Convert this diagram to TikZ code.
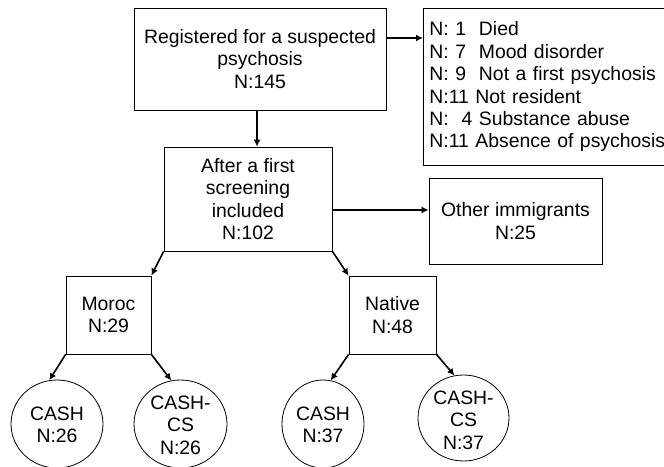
\documentclass[tikz,border=0pt]{standalone}
\usepackage{fontspec}
\setmainfont{Liberation Sans}
\usetikzlibrary{arrows.meta,shapes.geometric}
\begin{document}
\begin{tikzpicture}[x=1pt,y=-1pt,
  every node/.style={font=\fontsize{19.4}{22.4}\selectfont},
  box/.style={draw=black,line width=0.8pt,rectangle,inner sep=0pt,align=center},
  oval/.style={draw=black,line width=0.8pt,ellipse,inner sep=0pt},
  txt/.style={align=center,inner sep=0pt},
  arr/.style={draw=black,line width=1.6pt,-{Latex[length=7pt,width=7pt]}}
]
\useasboundingbox (0,0) rectangle (664,466);
\clip (0,0) rectangle (664,466);
\node[box,minimum width=252pt,minimum height=102pt] (b1) at (260,59) {Registered for a suspected\\psychosis\\N:145};
\node[box,anchor=north west,minimum height=157pt,text width=252pt,inner xsep=6pt,align=left] (b2) at (423,8)
 {N: 1\ \ Died\\N: 7\ \ Mood disorder\\N: 9\ \ Not a first psychosis\\N:11 Not resident\\N:\ \ 4 Substance abuse\\N:11 Absence of psychosis};
\node[box,minimum width=168pt,minimum height=104pt] (b3) at (248,199) {After a first\\screening\\included\\N:102};
\node[box,minimum width=173pt,minimum height=86pt] (b4) at (515.5,221) {Other immigrants\\N:25};
\node[box,minimum width=85pt,minimum height=78pt] (mo) at (108.5,315) {Moroc\\N:29};
\node[box,minimum width=87pt,minimum height=78pt] (na) at (392.5,315) {Native\\N:48};
\node[oval,minimum width=92pt,minimum height=88pt] (c1) at (57,424) {};
\node[oval,minimum width=93pt,minimum height=88pt] (c2) at (180.5,424) {};
\node[oval,minimum width=82pt,minimum height=88pt] (c3) at (323,424) {};
\node[oval,minimum width=91pt,minimum height=86pt] (c4) at (463.5,418) {};
\node[txt] (t1) at ([yshift=-1pt]c1.center) {CASH\\N:26};
\node[txt] (t2) at ([yshift=-1pt]c2.center) {CASH-\\CS\\N:26};
\node[txt] (t3) at ([yshift=-1pt]c3.center) {CASH\\N:37};
\node[txt] (t4) at ([yshift=-2pt]c4.center) {CASH-\\CS\\N:37};
\draw[arr] ([yshift=21pt]b1.east) -- ([yshift=21pt]b1.east -| b2.west);
\draw[arr] ([xshift=-3pt]b1.south) -- ([xshift=-3pt]b1.south |- b3.north);
\draw[arr] ([yshift=-11pt]b3.east) -- ([yshift=-11pt]b3.east -| b4.west);
\draw[arr] (b3.south west) -- (mo.north east);
\draw[arr] (b3.south east) -- (na.north west);
\draw[arr] (mo.south west) -- (c1.100);
\draw[arr] (mo.south east) -- (c2.102);
\draw[arr] (na.south west) -- (c3.80);
\draw[arr] (na.south east) -- (c4.102);
\end{tikzpicture}
\end{document}
